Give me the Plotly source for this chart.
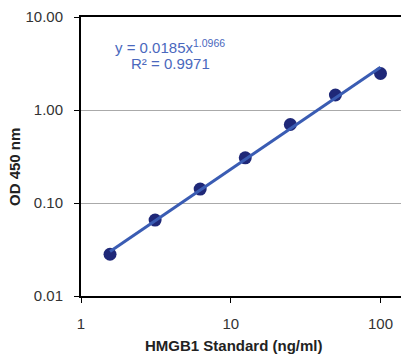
import numpy as np
import plotly.graph_objects as go

conc = [1.5625, 3.125, 6.25, 12.5, 25, 50, 100]
od = [0.0281, 0.0655, 0.141, 0.306, 0.698, 1.45, 2.47]
coef_a = 0.0185
coef_b = 1.0966
r2 = 0.9971
ytick_vals = [0.01, 0.1, 1, 10]
ytick_text = ["0.01", "0.10", "1.00", "10.00"]
xtick_vals = [1, 10, 100]
xtick_text = ["1", "10", "100"]

fit_x = [conc[0], conc[-1]]
fit_y = [coef_a * v ** coef_b for v in fit_x]

FONT = "Liberation Sans, Arial, sans-serif"
OFF = 8  # page body margin offset

fig = go.Figure()
fig.add_trace(go.Scatter(x=conc, y=od, mode="markers",
                         marker=dict(size=13, color="#1f2878"), showlegend=False))
fig.add_trace(go.Scatter(x=fit_x, y=fit_y, mode="lines",
                         line=dict(color="#3a5cb3", width=3), showlegend=False))

fig.update_layout(
    width=409, height=354,
    margin=dict(l=81 - OFF, r=3 + OFF, t=17 - OFF, b=58 + OFF, autoexpand=False),
    paper_bgcolor="white", plot_bgcolor="white",
    font=dict(family=FONT, size=15, color="#333333"),
    xaxis=dict(type="log", range=[0, np.log10(148)], tickvals=xtick_vals, ticktext=xtick_text,
               showgrid=False, showline=True, linecolor="black", linewidth=2, mirror=True,
               ticks="outside", ticklen=5, tickcolor="black", ticklabelstandoff=8, zeroline=False,
               automargin=False),
    yaxis=dict(type="log", range=[-2, 1], tickvals=ytick_vals, ticktext=ytick_text,
               showgrid=True, gridcolor="#aaaaaa", gridwidth=1,
               showline=True, linecolor="black", linewidth=2, mirror=True,
               ticks="outside", ticklen=5, tickcolor="black", ticklabelstandoff=8, zeroline=False,
               automargin=False),
    annotations=[
        dict(text="y = %.4fx<sup>%.4f</sup>" % (coef_a, coef_b), xref="paper", yref="paper",
             x=(113 - 81) / 325, y=(296 - 46) / 279, xanchor="left", yanchor="middle",
             showarrow=False, font=dict(family=FONT, size=15, color="#4a68bd")),
        dict(text="R² = %.4f" % r2, xref="paper", yref="paper",
             x=(129 - 81) / 325, y=(296 - 63) / 279, xanchor="left", yanchor="middle",
             showarrow=False, font=dict(family=FONT, size=15, color="#4a68bd")),
        dict(text="<b>HMGB1 Standard (ng/ml)</b>", xref="paper", yref="paper",
             x=(234 - 81) / 325, y=-(345 - 296) / 279, xanchor="center", yanchor="middle",
             showarrow=False, font=dict(family=FONT, size=15, color="#222222")),
        dict(text="<b>OD 450 nm</b>", xref="paper", yref="paper", textangle=-90,
             x=-(81 - 14) / 325, y=(296 - 167) / 279, xanchor="center", yanchor="middle",
             showarrow=False, font=dict(family=FONT, size=15, color="#222222")),
    ],
)

fig.write_html("out.html")
